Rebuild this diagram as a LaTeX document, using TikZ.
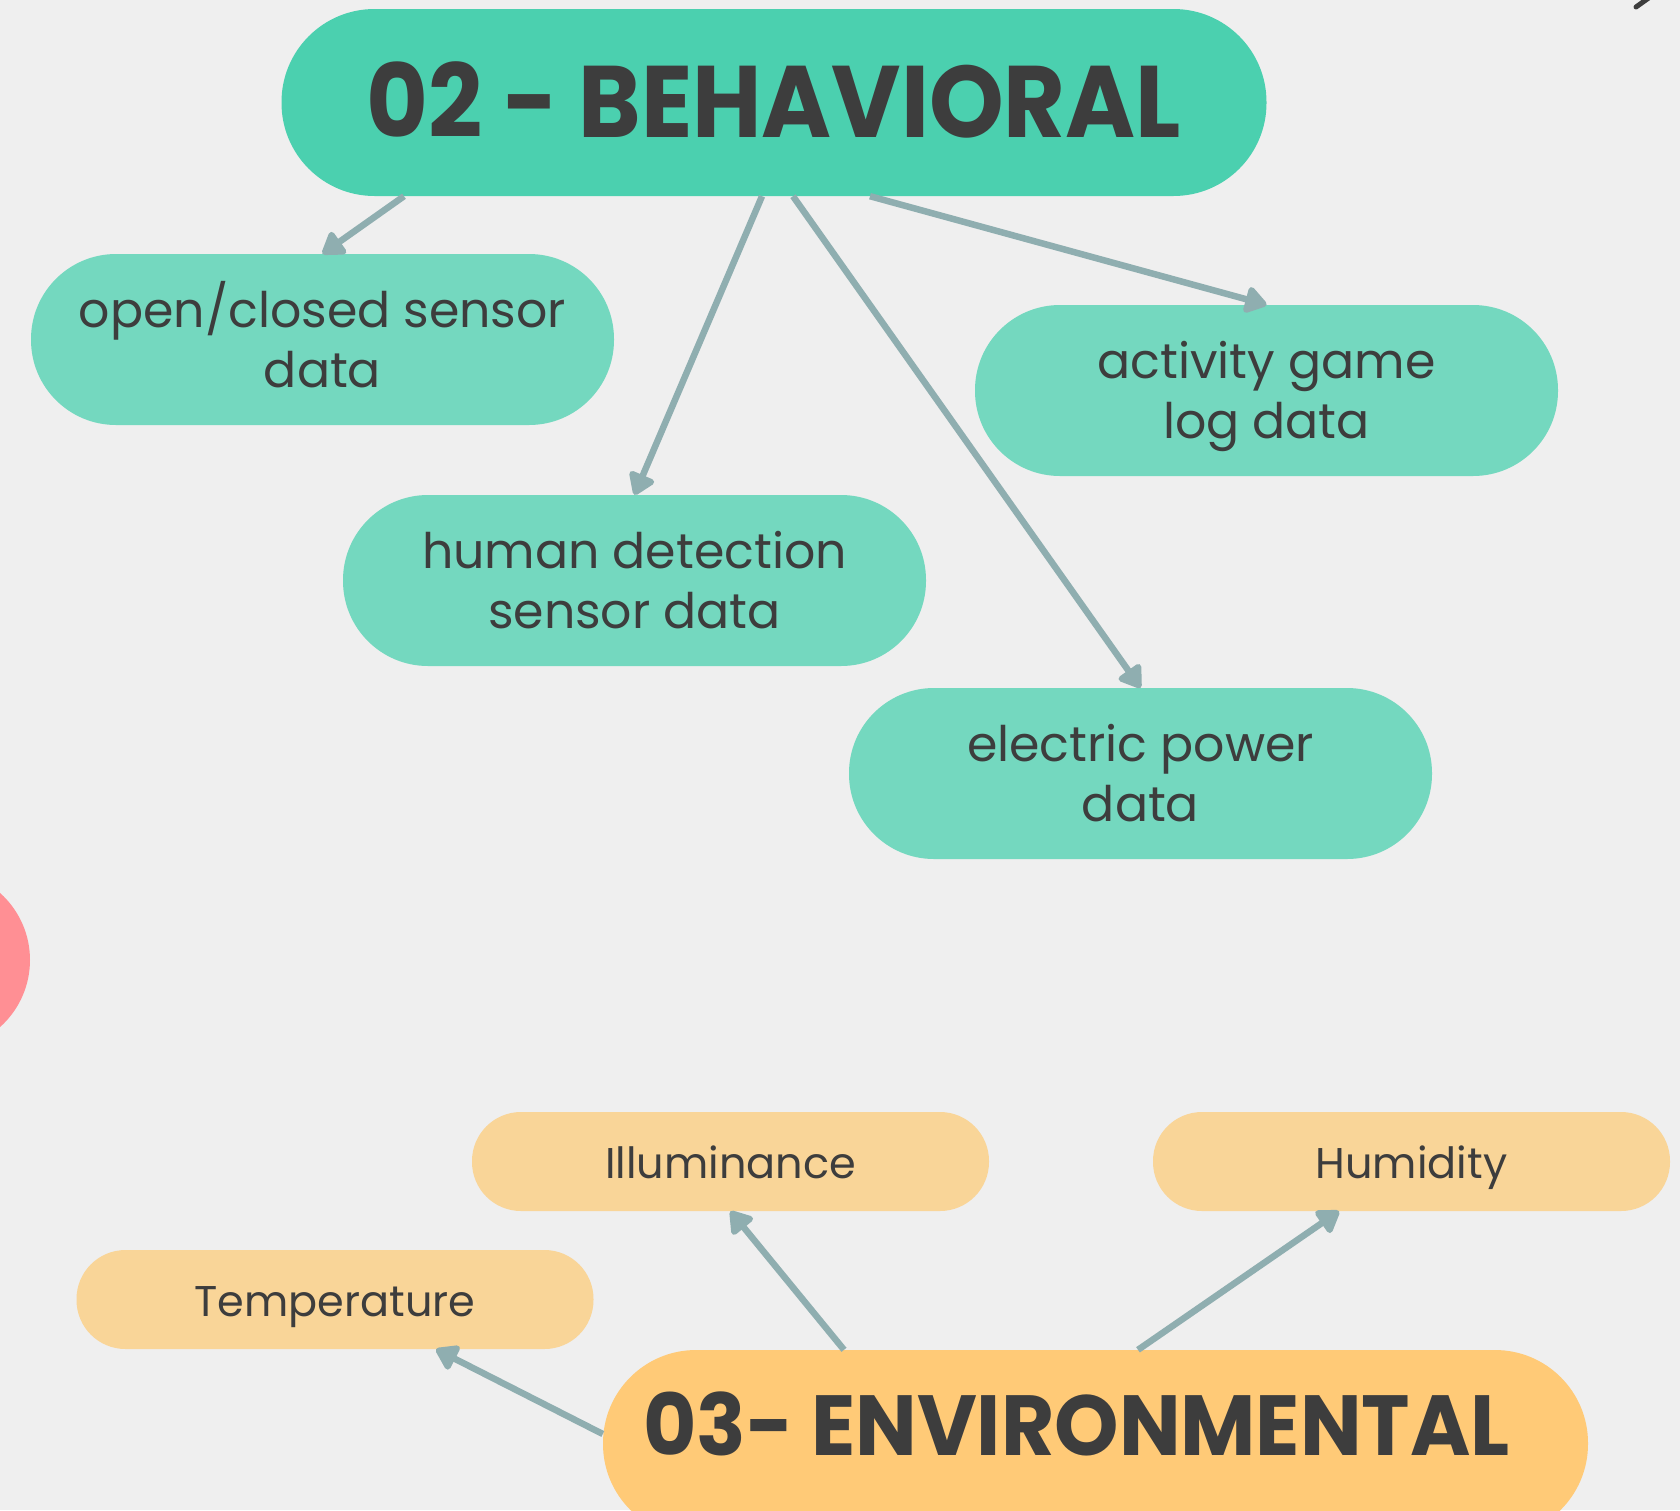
\documentclass[tikz,border=0pt]{standalone}
\usepackage{fontspec}
\setmainfont{Poppins}
\usetikzlibrary{arrows.meta,calc}

\definecolor{bgc}{HTML}{EFEFEF}
\definecolor{behc}{HTML}{4BD0AF}
\definecolor{behlight}{HTML}{74D8BF}
\definecolor{envc}{HTML}{FFCA77}
\definecolor{envlight}{HTML}{F9D598}
\definecolor{linkc}{HTML}{8FAEB0}
\definecolor{inkc}{HTML}{3D3D3D}
\definecolor{dotc}{HTML}{FF8F94}

\begin{document}
\begin{tikzpicture}
      [x=1pt, y=-1pt,
        category/.style={
          rectangle,
          rounded corners=93pt,
          minimum width=985pt,
          minimum height=187pt,
          inner sep=0pt,
          text depth=0pt,
          text=inkc},
        source/.style={
          rectangle,
          fill=behlight,
          rounded corners=85pt,
          minimum width=583pt,
          minimum height=171pt,
          inner sep=0pt,
          align=center,
          text height=96pt,
          text depth=0pt,
          text=inkc,
          font=\fontsize{49}{60}\selectfont},
        envitem/.style={
          rectangle,
          fill=envlight,
          rounded corners=49pt,
          minimum width=517pt,
          minimum height=99pt,
          inner sep=0pt,
          text height=33pt,
          text depth=0pt,
          text=inkc,
          font=\fontsize{43}{48}\selectfont},
        link/.style={draw=linkc, line width=6.5pt,
          -{Triangle[length=24pt,width=30pt,round]}}]
      \useasboundingbox (0,0) rectangle (1680,1510);
      \fill[bgc] (0,0) rectangle (1680,1510);
      % cut-off decorations at the borders
      \fill[dotc] (-60,960) circle (90pt);
      \draw[inkc, line width=5pt, line cap=round] (1636,7) -- (1650,-3);

      % behavioral
      \node[category, fill=behc, text height=69pt,
        font=\fontsize{95}{95}\bfseries\selectfont]
        (beh) at (774,102.5) {\scalebox{1}[1.07]{02 - BEHAVIORAL}};
      \node[source] (doors) at (322.5,339.5) {open/closed sensor\\data};
      \node[source] (presence) at (634.5,580.5) {human detection\\sensor data};
      \node[source] (game) at (1266.5,390.5) {activity game\\log data};
      \node[source] (power) at (1140.5,773.5) {electric power\\data};

      \draw[link] ([xshift=-370pt]beh.south) -- (doors.north);
      \draw[link] ([xshift=-12pt]beh.south) -- (presence.north);
      \draw[link] ([xshift=19pt]beh.south) -- (power.north);
      \draw[link] ([xshift=96pt]beh.south) -- (game.north);

      % environmental
      \node[category, fill=envc, text height=23pt,
        font=\fontsize{82}{82}\bfseries\selectfont]
        (env) at (1095.5,1443.5) {\scalebox{1}[1.04]{03- ENVIRONMENTAL}\hspace*{38pt}};
      \node[envitem] (temp) at (335,1299.5) {Temperature};
      \node[envitem] (lux) at (730.5,1161.5) {Illuminance};
      \node[envitem] (hum) at (1411.5,1161.5) {Humidity};

      \draw[link] ([yshift=9.5pt]env.west) -- ([xshift=101pt]temp.south);
      \draw[link] ([xshift=-251.5pt]env.north) -- (lux.south);
      \draw[link] ([xshift=42.5pt]env.north) -- ([xshift=-72.5pt]hum.south);
    \end{tikzpicture}
\end{document}
